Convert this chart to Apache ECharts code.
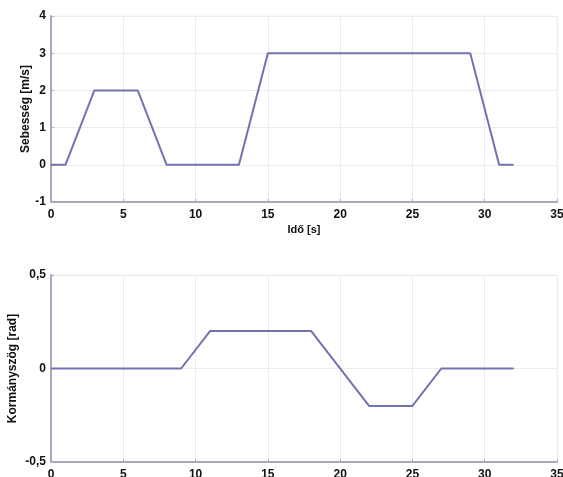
<!DOCTYPE html>
<html>
<head>
<meta charset="utf-8">
<script src="https://cdn.jsdelivr.net/npm/echarts@6/dist/echarts.min.js"></script>
<style>
  html, body { margin: 0; padding: 0; background: #fff; }
  #chart { width: 563px; height: 477px; }
</style>
</head>
<body>
<div id="chart"></div>
<script>
// Time breakpoints [s] and values for the speed profile
const speedTime  = [0, 1, 3, 6, 8, 13, 15, 29, 31, 32];
const speedValue = [0, 0, 2, 2, 0, 0, 3, 3, 0, 0];

// Time breakpoints [s] and values for the steering angle profile
const steerTime  = [0, 9, 11, 18, 22, 25, 27, 32];
const steerValue = [0, 0, 0.2, 0.2, -0.2, -0.2, 0, 0];

const speedData = speedTime.map((t, i) => [t, speedValue[i]]);
const steerData = steerTime.map((t, i) => [t, steerValue[i]]);

const font = 'Liberation Sans, Arial, sans-serif';
const axisColor = '#aaa8c0';
const gridColor = '#ececf0';
const lineColor = '#7272b0';
const labelStyle = { fontFamily: font, fontWeight: 'bold', fontSize: 12, color: '#111' };
const xNameStyle = { fontFamily: font, fontWeight: 'bold', fontSize: 11, color: '#111' };
const yNameStyle = { fontFamily: font, fontWeight: 'bold', fontSize: 12, color: '#111' };

function xAxis(gridIndex, name) {
  return {
    type: 'value', gridIndex, min: 0, max: 35, interval: 5,
    name, nameLocation: 'middle', nameGap: 22, nameMoveOverlap: false,
    nameTextStyle: xNameStyle,
    axisLine: { show: true, onZero: false, lineStyle: { color: axisColor, width: 2 } },
    axisTick: { show: true, inside: true, length: 3, lineStyle: { color: axisColor } },
    axisLabel: Object.assign({ margin: 7 }, labelStyle),
    splitLine: { show: true, lineStyle: { color: gridColor, width: 1 } }
  };
}

function yAxis(gridIndex, opts) {
  return Object.assign({
    type: 'value', gridIndex,
    nameLocation: 'middle', nameMoveOverlap: false,
    nameTextStyle: yNameStyle,
    axisLine: { show: true, onZero: false, lineStyle: { color: axisColor, width: 2 } },
    axisTick: { show: true, inside: true, length: 3, lineStyle: { color: axisColor } },
    axisLabel: Object.assign({ margin: 5 }, labelStyle),
    splitLine: { show: true, lineStyle: { color: gridColor, width: 1 } }
  }, opts);
}

const chart = echarts.init(document.getElementById('chart'), null, { renderer: 'canvas' });
chart.setOption({
  animation: false,
  backgroundColor: '#fff',
  grid: [
    { left: 51, right: 6, top: 16, height: 186, outerBoundsMode: 'none', containLabel: false,
      show: true, borderColor: '#f2f2f4', borderWidth: 1 },
    { left: 51, right: 6, top: 275, height: 187, outerBoundsMode: 'none', containLabel: false,
      show: true, borderColor: '#f2f2f4', borderWidth: 1 }
  ],
  xAxis: [xAxis(0, 'Idő [s]'), xAxis(1, '')],
  yAxis: [
    yAxis(0, { min: -1, max: 4, interval: 1, name: 'Sebesség [m/s]', nameGap: 19 }),
    yAxis(1, {
      min: -0.5, max: 0.5, interval: 0.5, name: 'Kormányszög [rad]', nameGap: 32,
      axisLabel: Object.assign({
        margin: 5,
        formatter: v => String(v).replace('.', ',')
      }, labelStyle)
    })
  ],
  series: [
    { type: 'line', xAxisIndex: 0, yAxisIndex: 0, data: speedData, showSymbol: false,
      lineStyle: { color: lineColor, width: 2 } },
    { type: 'line', xAxisIndex: 1, yAxisIndex: 1, data: steerData, showSymbol: false,
      lineStyle: { color: lineColor, width: 2 } }
  ]
});
</script>
</body>
</html>
